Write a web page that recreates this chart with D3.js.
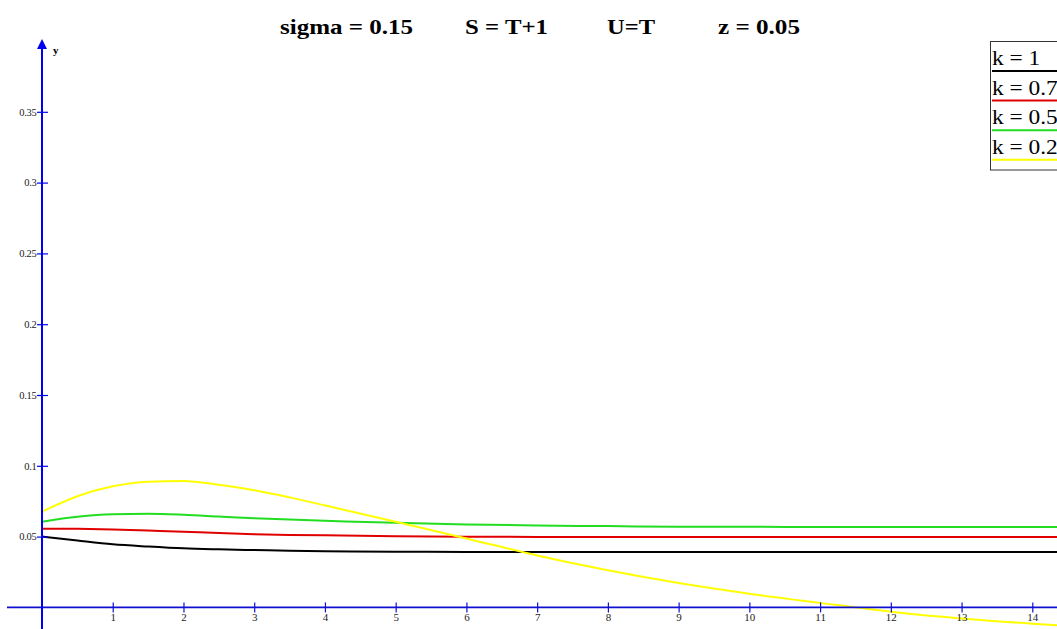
<!DOCTYPE html>
<html>
<head>
<meta charset="utf-8">
<script src="https://cdn.jsdelivr.net/npm/d3@7"></script>
<style>
  html, body { margin: 0; padding: 0; background: #fff; }
  svg { display: block; }
</style>
</head>
<body>
<svg id="chart" width="1057" height="629"></svg>
<script>
// Sample points along T
const tValues = [0, 0.5, 1, 1.5, 2, 2.5, 3, 3.5, 4, 5, 6, 7, 8, 9, 10, 11, 12, 13, 14, 14.4];

// y(T) for each k
const yK1  = [0.0500, 0.0472, 0.0446, 0.0430, 0.0417, 0.0410, 0.0405, 0.0400, 0.0397, 0.0393, 0.0392, 0.0392, 0.0392, 0.0392, 0.0392, 0.0392, 0.0392, 0.0392, 0.0392, 0.0392];
const yK07 = [0.0556, 0.0555, 0.0551, 0.0543, 0.0535, 0.0525, 0.0517, 0.0512, 0.0509, 0.0502, 0.0499, 0.0498, 0.0497, 0.0497, 0.0497, 0.0497, 0.0497, 0.0497, 0.0497, 0.0497];
const yK05 = [0.0605, 0.0640, 0.0658, 0.0661, 0.0654, 0.0642, 0.0630, 0.0620, 0.0612, 0.0597, 0.0586, 0.0578, 0.0574, 0.0570, 0.0569, 0.0568, 0.0568, 0.0568, 0.0568, 0.0568];
const yK02 = [0.0676, 0.0785, 0.0855, 0.0888, 0.0893, 0.0866, 0.0828, 0.0777, 0.0720, 0.0605, 0.0487, 0.0367, 0.0262, 0.0172, 0.0097, 0.0032, -0.0030, -0.0078, -0.0115, -0.0127];

const seriesNames = ["k = 1", "k = 0.7", "k = 0.5", "k = 0.2"];
const seriesColors = ["#000000", "#e00000", "#22dd22", "#ffff00"];
const seriesValues = [yK1, yK07, yK05, yK02];

const xTicks = [1, 2, 3, 4, 5, 6, 7, 8, 9, 10, 11, 12, 13, 14];
const yTicks = [0.05, 0.1, 0.15, 0.2, 0.25, 0.3, 0.35];
const yTickLabels = ["0.05", "0.1", "0.15", "0.2", "0.25", "0.3", "0.35"];

const titleParts = ["sigma = 0.15", "S = T+1", "U=T", "z = 0.05"];

const svg = d3.select("#chart");
const W = 1057, H = 629;
const stretch = 1.17; // text is drawn slightly wide

svg.append("rect").attr("width", W).attr("height", H).attr("fill", "#fff");

const x = d3.scaleLinear().domain([0, 14]).range([42, 1032.3]);
const y = d3.scaleLinear().domain([0, 0.35]).range([607.4, 111.8]);

const axisBlue = "#0000f0";

// Curves
const line = d3.line()
  .x((d, i) => x(tValues[i]))
  .y(d => y(d))
  .curve(d3.curveMonotoneX);

const curves = svg.append("g");
seriesValues.forEach((vals, s) => {
  curves.append("path")
    .datum(vals)
    .attr("d", line)
    .attr("fill", "none")
    .attr("stroke", seriesColors[s])
    .attr("stroke-width", 2);
});

// x axis (horizontal line through y = 0)
svg.append("line")
  .attr("x1", 7).attr("x2", W)
  .attr("y1", y(0)).attr("y2", y(0))
  .attr("stroke", "#1010d0").attr("stroke-width", 1.8);

const xAxis = d3.axisBottom(x).tickValues(xTicks).tickSize(5).tickFormat(d3.format("d"));
const gx = svg.append("g").attr("transform", `translate(0,${y(0)})`).call(xAxis);
gx.select(".domain").remove();
gx.selectAll(".tick line").attr("y1", -5).attr("y2", 5).attr("stroke", "#1010d0").attr("stroke-width", 1.2);
gx.selectAll(".tick text")
  .attr("y", 14).attr("dy", 0)
  .attr("font-family", "Liberation Serif, serif")
  .attr("font-size", 11).attr("fill", "#222");

// y axis (vertical line through T = 0) with arrow
svg.append("line")
  .attr("x1", x(0)).attr("x2", x(0))
  .attr("y1", 46).attr("y2", H)
  .attr("stroke", axisBlue).attr("stroke-width", 2);
svg.append("path")
  .attr("d", `M${x(0)},39 L${x(0) - 5},49 L${x(0) + 5},49 Z`)
  .attr("fill", axisBlue);
svg.append("text")
  .attr("x", 53).attr("y", 54)
  .attr("font-family", "Liberation Serif, serif")
  .attr("font-weight", "bold")
  .attr("font-size", 11)
  .text("y");

const yAxis = d3.axisLeft(y).tickValues(yTicks).tickSize(5)
  .tickFormat((d, i) => yTickLabels[i]);
const gy = svg.append("g").attr("transform", `translate(${x(0)},0)`).call(yAxis);
gy.select(".domain").remove();
gy.selectAll(".tick line").attr("x1", -5).attr("x2", 6).attr("stroke", axisBlue).attr("stroke-width", 1.2);
gy.selectAll(".tick text")
  .attr("x", -5.5)
  .attr("font-family", "Liberation Serif, serif")
  .attr("font-size", 10.5).attr("fill", "#222")
  .attr("letter-spacing", "-0.3");

// Title
const titleX = [280, 465, 607, 718];
const titleW = [133, 83, 48, 82];
svg.append("g").selectAll("text")
  .data(titleParts)
  .join("text")
  .attr("x", (d, i) => titleX[i])
  .attr("y", 34)
  .attr("font-family", "Liberation Serif, serif")
  .attr("font-weight", "bold")
  .attr("font-size", 21)
  .attr("fill", "#000")
  .attr("textLength", (d, i) => titleW[i])
  .attr("lengthAdjust", "spacingAndGlyphs")
  .text(d => d);

// Legend
const legend = svg.append("g");
legend.append("rect")
  .attr("x", 990.5).attr("y", 41.5)
  .attr("width", 90).attr("height", 128.5)
  .attr("fill", "#fff")
  .attr("stroke", "#333").attr("stroke-width", 1);
seriesNames.forEach((name, i) => {
  const lineY = 71 + i * 29.6;
  legend.append("text")
    .attr("transform", `translate(992,${lineY - 6}) scale(${stretch},1)`)
    .attr("font-family", "Liberation Serif, serif")
    .attr("font-size", 20)
    .attr("fill", "#000")
    .text(name);
  legend.append("line")
    .attr("x1", 992).attr("x2", W)
    .attr("y1", lineY).attr("y2", lineY)
    .attr("stroke", seriesColors[i]).attr("stroke-width", 2);
});
</script>
</body>
</html>
